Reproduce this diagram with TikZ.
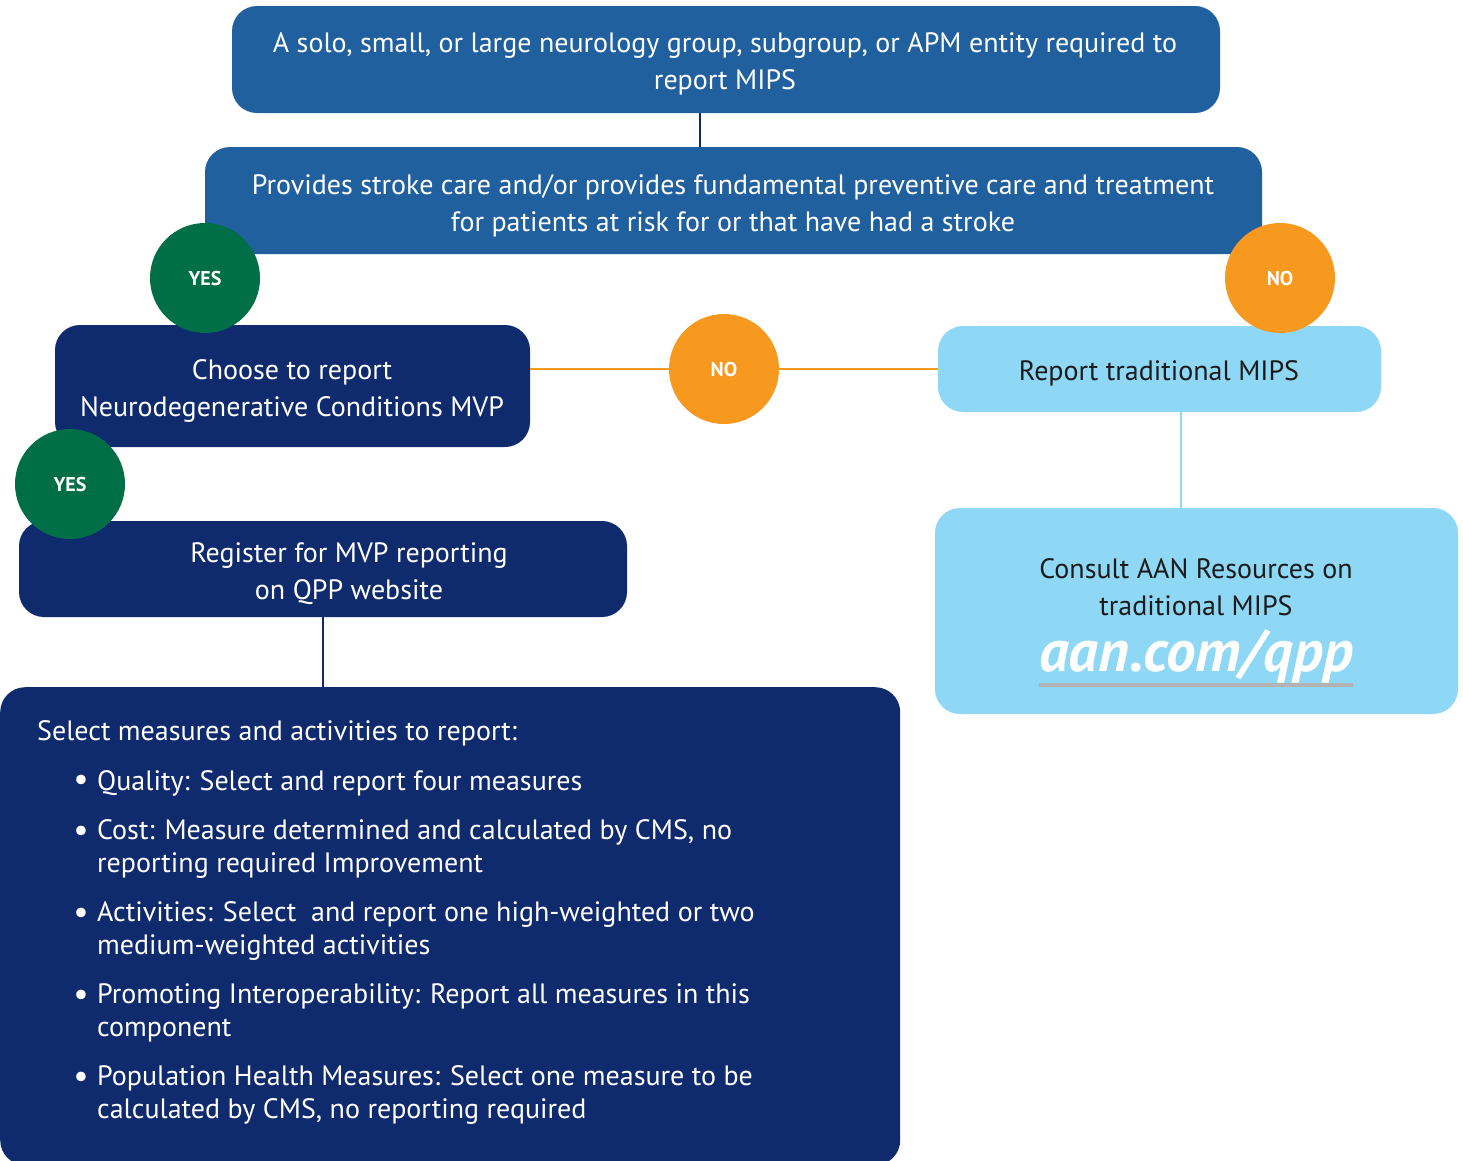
\documentclass[tikz,border=0pt]{standalone}
\usepackage{fontspec}
\setmainfont{PT Sans}
\definecolor{midblue}{HTML}{21609E}
\definecolor{navy}{HTML}{0F2B6E}
\definecolor{lightblue}{HTML}{8ED8F6}
\definecolor{yesgreen}{HTML}{006E46}
\definecolor{noorange}{HTML}{F7981F}
\definecolor{txtdark}{HTML}{1A1A1A}
\definecolor{ulgray}{HTML}{B3B3B3}
\tikzset{
  box/.style={rounded corners=25pt, inner sep=0pt, align=center, font=\fontsize{28}{37}\selectfont},
  darkbox/.style={box, fill=navy, text=white},
  bluebox/.style={box, fill=midblue, text=white},
  lightbox/.style={box, fill=lightblue, text=txtdark},
  yescirc/.style={circle, fill=yesgreen, text=white, minimum size=110pt, inner sep=0pt, font=\bfseries\fontsize{20}{22}\selectfont},
  nocirc/.style={circle, fill=noorange, text=white, minimum size=110pt, inner sep=0pt, font=\bfseries\fontsize{20}{22}\selectfont},
  txt/.style={inner sep=0pt, anchor=west, text=white, font=\fontsize{28}{33}\selectfont, align=left},
  bul/.style={inner sep=0pt, text=white, font=\fontsize{34}{33}\selectfont},
}
\begin{document}
\begin{tikzpicture}[x=1pt,y=-1pt]
\useasboundingbox[fill=white] (0,0) rectangle (1463,1160);
% boxes
\node[bluebox, minimum width=988pt, minimum height=107pt] (b1) at (726,59.5) {};
\node[bluebox, minimum width=1057pt, minimum height=107pt] (b2) at (733.5,200.5) {};
\node[darkbox, minimum width=475pt, minimum height=122pt] (b3) at (292.5,386) {};
\node[lightbox, minimum width=443pt, minimum height=86pt] (b4) at (1159.5,369) {};
\node[lightbox, minimum width=523pt, minimum height=206pt] (b5) at (1196.5,611) {};
\node[darkbox, minimum width=608pt, minimum height=96pt] (b6) at (323,569) {};
\node[darkbox, minimum width=900pt, minimum height=478pt, anchor=north west] (b7) at (0,687) {};
% box texts
\node[box, text=white] (t1) at (725,64) {A solo, small, or large neurology group, subgroup, or APM entity required to\\report MIPS};
\node[box, text=white] (t2) at (733,206) {Provides stroke care and/or provides fundamental preventive care and treatment\\for patients at risk for or that have had a stroke};
\node[box, text=white] (t3) at (292,391) {Choose to report\\Neurodegenerative Conditions MVP};
\node[box, text=txtdark] (t4) at (1159,373) {Report traditional MIPS};
\node[box, text=txtdark] (t5) at (1196,587) {Consult AAN Resources on\\traditional MIPS};
\node[box, text=white] (t6) at (349,574) {Register for MVP reporting\\on QPP website};
\node[inner sep=0pt, text=white, font=\bfseries\itshape\fontsize{59}{60}\selectfont] (link) at (1196,656) {aan.com/qpp};
\draw[ulgray, line width=4pt] ([yshift=-2pt]link.south west) coordinate (ul1) -- (ul1 -| link.south east);
% connectors
\draw[navy, line width=2pt] ([xshift=-26pt]b1.south) -- ([xshift=-26pt]b1.south |- b2.north);
\draw[noorange, line width=2.5pt] (b3.east |- b4.west) -- (b4.west);
\draw[lightblue, line width=2.5pt] ([xshift=21.5pt]b4.south) -- ([xshift=21.5pt]b4.south |- b5.north);
\draw[navy, line width=2pt] (b6.south) -- (b6.south |- b7.north);
% circles
\node[yescirc] (y1) at (205,278) {YES};
\node[nocirc] (n1) at (1280,278) {NO};
\node[nocirc] (n2) at (724,369) {NO};
\node[yescirc] (y2) at (70,484) {YES};
% list text
\node[txt] (l0) at (37,733) {Select measures and activities to report:};
\node[bul] (bu1) at (81,783) {\textbullet};
\node[txt] (l1) at (97,783) {Quality: Select and report four measures};
\node[bul] (bu2) at (81,834) {\textbullet};
\node[txt, anchor=north west] (l2) at (97,819) {Cost: Measure determined and calculated by CMS, no\\reporting required Improvement};
\node[bul] (bu3) at (81,916) {\textbullet};
\node[txt, anchor=north west] (l3) at (97,901) {Activities: Select\ \ and report one high-weighted or two\\medium-weighted activities};
\node[bul] (bu4) at (81,998) {\textbullet};
\node[txt, anchor=north west] (l4) at (97,983) {Promoting Interoperability: Report all measures in this\\component};
\node[bul] (bu5) at (81,1080) {\textbullet};
\node[txt, anchor=north west] (l5) at (97,1065) {Population Health Measures: Select one measure to be\\calculated by CMS, no reporting required};
\end{tikzpicture}
\end{document}
